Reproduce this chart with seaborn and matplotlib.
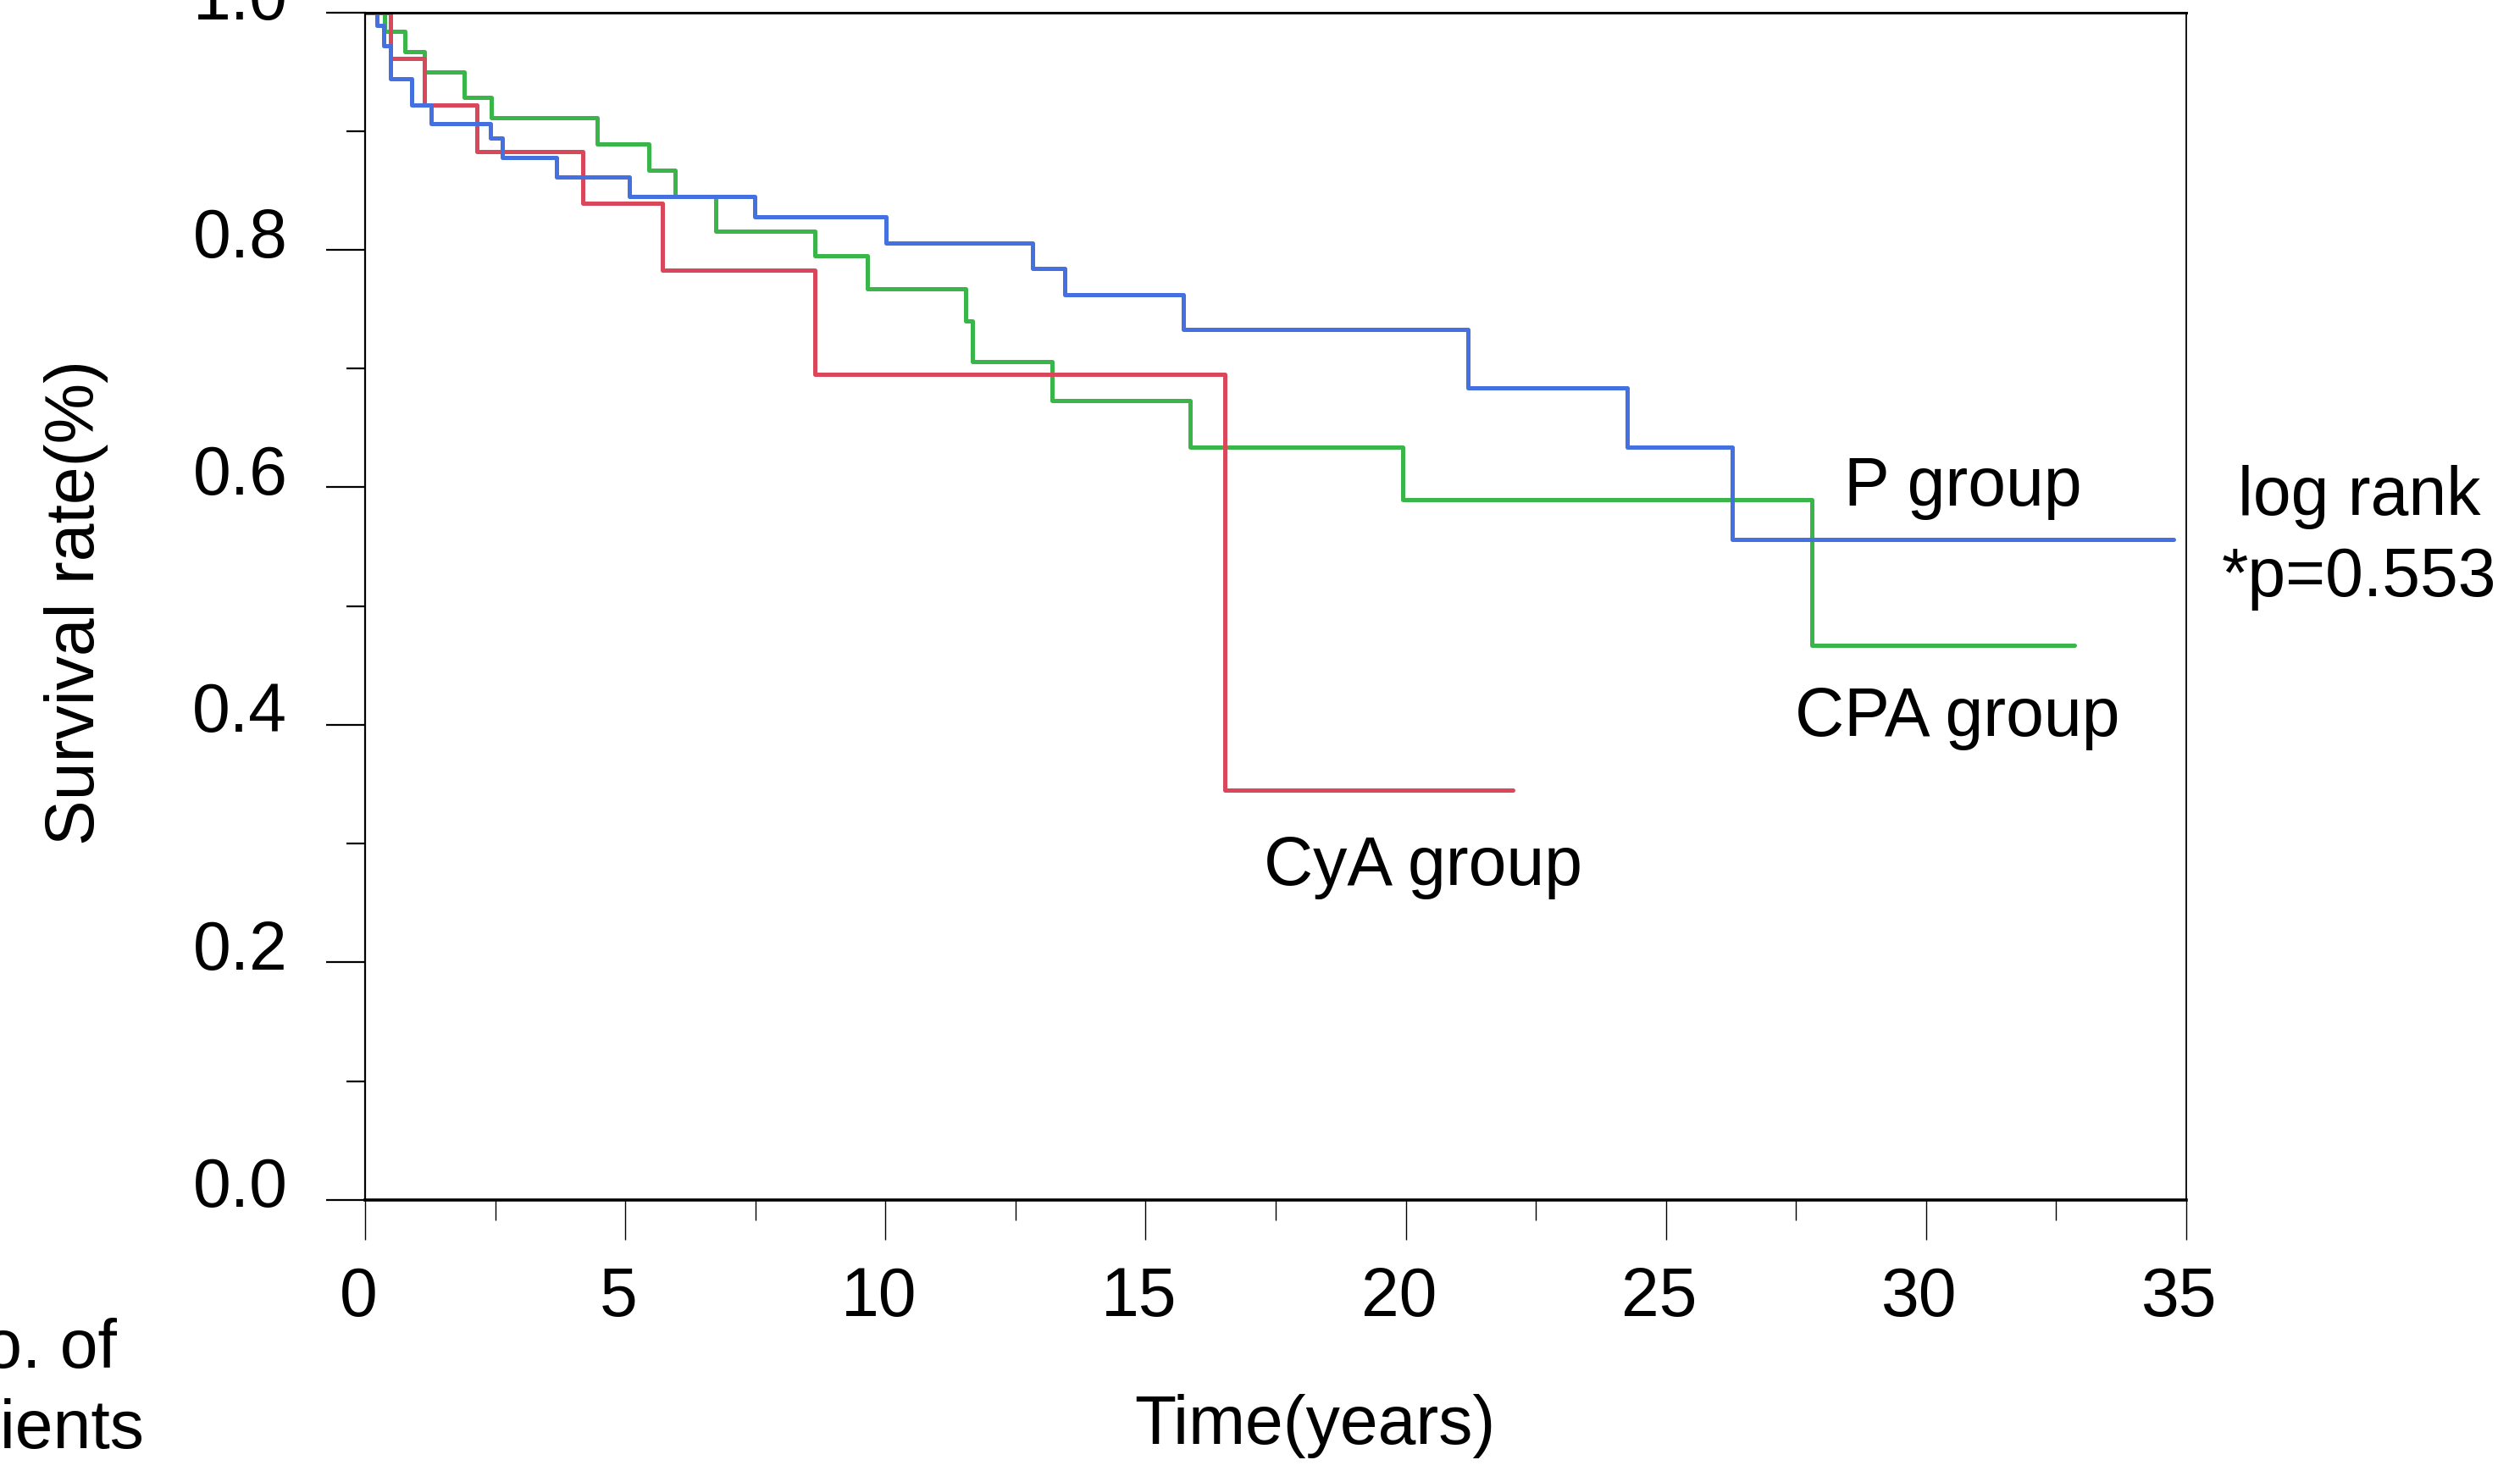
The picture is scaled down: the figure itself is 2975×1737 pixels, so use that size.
import numpy as np
import pandas as pd
import matplotlib
matplotlib.use("Agg")
import matplotlib.pyplot as plt
import matplotlib.transforms as mtransforms
import seaborn as sns

# ---- data ----
groups = ["CPA group", "CyA group", "P group"]
colors = ["#3AB54A", "#D9485A", "#4470E0"]

p_time = [0, 0.23, 0.36, 0.49, 0.89, 1.27, 2.41, 2.63, 3.68, 5.08, 7.49, 10.01,
          12.83, 13.45, 15.73, 21.19, 24.25, 26.27, 34.75]
p_surv = [1.0, 0.989, 0.972, 0.944, 0.922, 0.906, 0.894, 0.878, 0.861, 0.845,
          0.828, 0.806, 0.784, 0.762, 0.733, 0.684, 0.634, 0.556, 0.556]

cpa_time = [0, 0.37, 0.76, 1.14, 1.90, 2.42, 4.46, 5.46, 5.96, 6.74, 8.64, 9.65,
            11.55, 11.68, 13.20, 15.86, 19.94, 27.80, 32.85]
cpa_surv = [1.0, 0.984, 0.967, 0.950, 0.928, 0.911, 0.889, 0.867, 0.845, 0.816,
            0.795, 0.767, 0.740, 0.706, 0.673, 0.634, 0.590, 0.467, 0.467]

cya_time = [0, 0.49, 1.14, 2.15, 4.18, 5.71, 8.64, 16.52, 22.06]
cya_surv = [1.0, 0.961, 0.922, 0.883, 0.839, 0.783, 0.695, 0.345, 0.345]

x_ticks = [0, 5, 10, 15, 20, 25, 30, 35]
y_ticks = [0.0, 0.2, 0.4, 0.6, 0.8, 1.0]
y_ticklabels = ["0.0", "0.2", "0.4", "0.6", "0.8", "1.0"]

df = pd.concat([
    pd.DataFrame({"time": cpa_time, "surv": cpa_surv, "group": groups[0]}),
    pd.DataFrame({"time": cya_time, "surv": cya_surv, "group": groups[1]}),
    pd.DataFrame({"time": p_time, "surv": p_surv, "group": groups[2]}),
], ignore_index=True)

# ---- style ----
sns.set_theme(style="white")
plt.rcParams["font.family"] = ["Liberation Sans", "DejaVu Sans"]
plt.rcParams["text.color"] = "black"
plt.rcParams["xtick.color"] = "black"
plt.rcParams["ytick.color"] = "black"
plt.rcParams["axes.labelcolor"] = "black"
FS = 58

fig = plt.figure(figsize=(29.75, 17.37), dpi=100)
ax = fig.add_axes([0.14487, 0.18423, 0.72269, 0.80742])

sns.lineplot(data=df, x="time", y="surv", hue="group", hue_order=groups,
             palette=dict(zip(groups, colors)), drawstyle="steps-post",
             estimator=None, sort=False, legend=False, linewidth=3.6, ax=ax)

ax.set_xlim(0, 35)
ax.set_ylim(0, 1.0)
ax.set_xlabel("")
ax.set_ylabel("")

ax.set_xticks(x_ticks)
ax.set_xticklabels([str(t) for t in x_ticks])
ax.set_xticks([2.5 + 5 * i for i in range(7)], minor=True)
ax.set_yticks(y_ticks)
ax.set_yticklabels(y_ticklabels)
ax.set_yticks([0.1, 0.3, 0.5, 0.7, 0.9], minor=True)

ax.tick_params(axis="x", which="major", direction="out", length=34, width=1.0,
               color="black", labelcolor="black", labelsize=FS, pad=22, bottom=True)
ax.tick_params(axis="x", which="minor", direction="out", length=17, width=1.0,
               color="black", bottom=True)
ax.tick_params(axis="y", which="major", direction="out", length=33, width=1.6,
               color="black", labelcolor="black", labelsize=FS, pad=33, left=True)
ax.tick_params(axis="y", which="minor", direction="out", length=16, width=1.6,
               color="black", left=True)

for lab in ax.get_yticklabels():
    lab.set_transform(lab.get_transform() +
                      mtransforms.ScaledTranslation(0, 0.21, fig.dpi_scale_trans))
for lab in ax.get_xticklabels():
    lab.set_transform(lab.get_transform() +
                      mtransforms.ScaledTranslation(-0.08, 0, fig.dpi_scale_trans))

for side, lw in [("left", 1.6), ("bottom", 2.6), ("top", 2.2), ("right", 1.3)]:
    ax.spines[side].set_visible(True)
    ax.spines[side].set_linewidth(lw)
    ax.spines[side].set_color("black")

# group labels on the curves
ax.text(28.42, 0.585, "P group", fontsize=FS, ha="left", va="baseline", color="black")
ax.text(27.48, 0.391, "CPA group", fontsize=FS, ha="left", va="baseline", color="black")
ax.text(17.27, 0.265, "CyA group", fontsize=FS, ha="left", va="baseline", color="black")

# statistics text
fig.text(0.9361, 0.650, "log rank", fontsize=FS, ha="center", va="baseline")
fig.text(0.9361, 0.5947, "*p=0.553", fontsize=FS, ha="center", va="baseline")

# axis titles
fig.text(0.5217, 0.01842, "Time(years)", fontsize=FS, ha="center", va="baseline")
fig.text(0.03025, 0.5901, "Survival rate(%)", fontsize=FS, ha="center",
         va="center", rotation=90)
fig.text(0.01008, 0.0702, "No. of", fontsize=FS, ha="center", va="baseline")
fig.text(0.01008, 0.01554, "patients", fontsize=FS, ha="center", va="baseline")

fig.savefig("out.png", dpi=100, facecolor="white")
